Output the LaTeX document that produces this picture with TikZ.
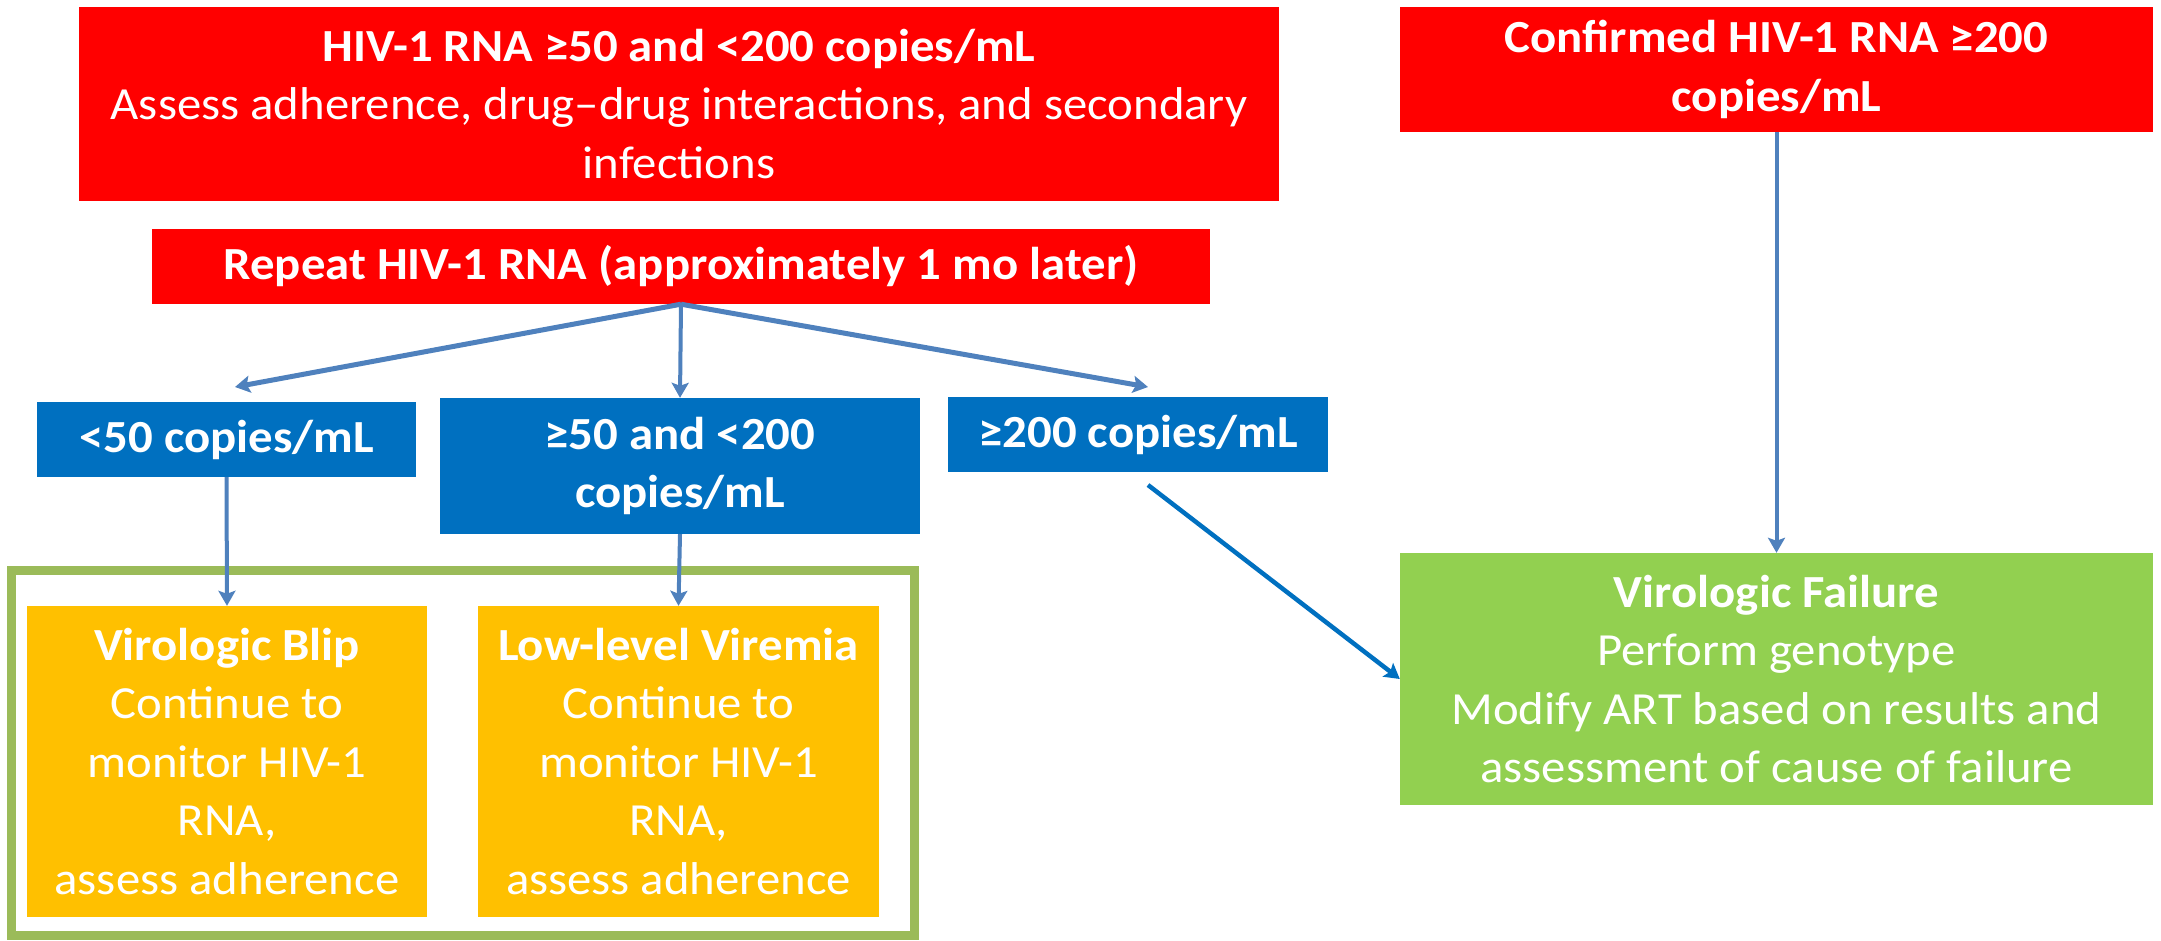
\documentclass[tikz,border=0pt]{standalone}
\usepackage{fontspec}
\setmainfont{Carlito}[FakeStretch=1.06]
\usepackage{tikz}
\usetikzlibrary{arrows.meta}

\definecolor{boxred}{HTML}{FF0000}
\definecolor{boxblue}{HTML}{0070C0}
\definecolor{boxorange}{HTML}{FFC000}
\definecolor{boxgreen}{HTML}{92D050}
\definecolor{framegreen}{HTML}{9BBB59}
\definecolor{arrowblue}{HTML}{4F81BD}

\begin{document}
\begin{tikzpicture}[>={Stealth[length=15pt,width=17pt,inset=3pt]},x=1pt,y=-1pt,
		box/.style={inner sep=0pt,align=center,text=white,font=\fontsize{46}{58.5}\selectfont},
		link/.style={->,arrowblue,line width=4pt}]
		\useasboundingbox (0,0) rectangle (2161,940);
		
		\node[box,fill=boxred,minimum width=1200pt,minimum height=194pt] (hiv) at (679,104) {\textbf{HIV-1 RNA ≥50 and <200 copies/mL}\\Assess adherence, drug–drug interactions, and secondary\\infections};
		\node[box,fill=boxred,minimum width=753pt,minimum height=125pt] (conf) at (1776.5,69.5) {\textbf{Confirmed HIV-1 RNA ≥200}\\\textbf{copies/mL}};
		\node[box,fill=boxred,minimum width=1058pt,minimum height=75pt] (rep) at (681,266.5) {\textbf{Repeat HIV-1 RNA (approximately 1 mo later)}};
		
		\node[box,fill=boxblue,minimum width=379pt,minimum height=75pt] (lo) at (226.5,439.5) {\textbf{<50 copies/mL}};
		\node[box,fill=boxblue,minimum width=480pt,minimum height=136pt] (mid) at (680,466) {\textbf{≥50 and <200}\\\textbf{copies/mL}};
		\node[box,fill=boxblue,minimum width=380pt,minimum height=75pt] (hi) at (1138,434.5) {\textbf{≥200 copies/mL}};
		
		\draw[framegreen,line width=9pt] (11,570) rectangle (914,935);
		\node[box,fill=boxorange,minimum width=400pt,minimum height=311pt] (blip) at (227,761.5) {\textbf{Virologic Blip}\\Continue to\\monitor HIV-1\\RNA,\\assess adherence};
		\node[box,fill=boxorange,minimum width=401pt,minimum height=311pt] (llv) at (678.5,761.5) {\textbf{Low-level Viremia}\\Continue to\\monitor HIV-1\\RNA,\\assess adherence};
		\node[box,fill=boxgreen,minimum width=753pt,minimum height=252pt] (vf) at (1776.5,679) {\textbf{Virologic Failure}\\Perform genotype\\Modify ART based on results and\\assessment of cause of failure};
		
		\coordinate (lotip) at (235,387);
		\coordinate (hitip) at (1148,387);
		\coordinate (hifoot) at (1148,485);
		
		\draw[link,line width=5pt] (rep.south) -- (lotip);
		\draw[link] (rep.south) -- (mid.north);
		\draw[link,line width=5pt] (rep.south) -- (hitip);
		
		\draw[link] (lo.south) -- (blip.north);
		\draw[link] (mid.south) -- (llv.north);
		\draw[link] (conf.south) -- (vf.north);
		\draw[link,boxblue,line width=4.5pt] (hifoot) -- (vf.west);
	\end{tikzpicture}
\end{document}
